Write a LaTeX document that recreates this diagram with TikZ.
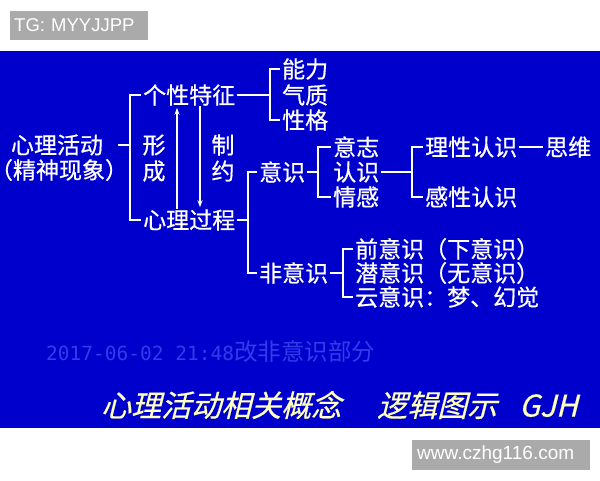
\documentclass[tikz,border=0pt]{standalone}
\usepackage{fontspec}
\setmainfont{Noto Sans CJK SC}[FakeBold=0.6]
\newfontfamily\latinsans{Liberation Sans}
\newfontfamily\monof{DejaVu Sans Mono}
\newfontfamily\cjkplain{Noto Sans CJK SC}
\newfontfamily\titlef[FakeSlant=0.25,FakeBold=0.6]{Noto Sans CJK SC}
\usetikzlibrary{arrows.meta}
\definecolor{bgblue}{RGB}{0,0,204}
\definecolor{labelgray}{RGB}{170,170,170}
\definecolor{datecol}{RGB}{50,60,235}
\definecolor{titleyellow}{RGB}{255,255,190}
\begin{document}
\begin{tikzpicture}[x=1pt,y=-1pt,
  t/.style={text=white,inner sep=0pt,font=\fontsize{23}{23}\selectfont},
  tw/.style={t,anchor=west},
  br/.style={draw=white,line width=2.6pt},
  ar/.style={draw=white,line width=1.8pt,-{Stealth[length=7pt,width=5pt]}},
  tag/.style={fill=labelgray,text=white,anchor=west,align=left,minimum height=29pt,inner ysep=0pt}]
\useasboundingbox (0,0) rectangle (600,480);
\fill[white] (0,0) rectangle (600,480);
\fill[bgblue] (0,51) rectangle (600,428);
% watermark labels
\node[tag,text width=130pt,inner xsep=4pt,font=\latinsans\fontsize{18.5}{19}\selectfont] (tg) at (10,25.5) {TG: MYYJJPP};
\node[tag,text width=168pt,inner xsep=5pt,minimum height=30pt,font=\latinsans\fontsize{19}{19}\selectfont] (web) at (412,455) {www.czhg116.com};
% texts
\node[t] (xlhd) at (57,145) {心理活动};
\node[t] (jsxx) at (59,170) {\makebox[13pt][r]{（}精神现象\makebox[13pt][l]{）}};
\node[tw] (gxtz) at (143,95) {个性特征};
\node[t] (xing) at (154,145) {形};
\node[t] (cheng) at (154,171) {成};
\node[t] (zhi) at (223,145) {制};
\node[t] (yue) at (223,171) {约};
\node[tw] (xlgc) at (143,220) {心理过程};
\node[tw] (nl) at (282,69) {能力};
\node[tw] (qz) at (282,95) {气质};
\node[tw] (xg) at (282,120) {性格};
\node[tw] (ys) at (259,172) {意识};
\node[tw] (yz) at (333,147) {意志};
\node[tw] (rs) at (333,172) {认识};
\node[tw] (qg) at (333,197) {情感};
\node[tw] (lxrs) at (425,147) {理性认识};
\node[tw] (sw) at (545,147) {思维};
\node[tw] (gxrs) at (425,197) {感性认识};
\node[tw] (fys) at (259,273) {非意识};
\node[tw] (qys) at (355,249) {前意识（下意识）};
\node[tw] (qianys) at (355,273) {潜意识（无意识）};
\node[tw] (yys) at (355,297) {云意识：梦、幻觉};
% bracket joints
\coordinate (s1) at (130,145);
\coordinate (s1l) at (118,145);
\coordinate (s2) at (270,95);
\coordinate (s3) at (248,220);
\coordinate (s4) at (318,172);
\coordinate (s5) at (412,172);
\coordinate (s6) at (343,273);
% brackets
\draw[br] ([xshift=-2pt]gxtz.west) -| (s1) |- ([xshift=-2pt]xlgc.west);
\draw[br] (s1l) -- (s1);
\draw[br] ([xshift=-2pt]nl.west) -| (s2) |- ([xshift=-2pt]xg.west);
\draw[br] ([xshift=2pt]gxtz.east) -- (s2);
\draw[br] ([xshift=-2pt]ys.west) -| (s3) |- ([xshift=-2pt]fys.west);
\draw[br] ([xshift=2pt]xlgc.east) -- (s3);
\draw[br] ([xshift=-2pt]yz.west) -| (s4) |- ([xshift=-2pt]qg.west);
\draw[br] ([xshift=2pt]ys.east) -- (s4);
\draw[br] ([xshift=-2pt]lxrs.west) -| (s5) |- ([xshift=-2pt]gxrs.west);
\draw[br] ([xshift=2pt]rs.east) -- (s5);
\draw[br] ([xshift=-2pt]qys.west) -| (s6) |- ([xshift=-2pt]yys.west);
\draw[br] ([xshift=2pt]fys.east) -- (s6);
\draw[white,line width=1.5pt] ([xshift=2pt]lxrs.east) -- ([xshift=-2pt]sw.west);
% arrows
\draw[ar] ([xshift=34pt]xlgc.north west) -- ([xshift=34pt,yshift=-2pt]gxtz.south west);
\draw[ar] ([xshift=57pt]gxtz.south west) -- ([xshift=57pt,yshift=2pt]xlgc.north west);
% date and title
\node[anchor=west,inner sep=0pt,text=datecol] (date) at (46,352) {{\monof\fontsize{19.5}{20}\selectfont 2017-06-02 21:48}{\cjkplain\fontsize{23.5}{23}\selectfont 改非意识部分}};
\node[anchor=west,inner sep=0pt,text=titleyellow,font=\titlef\fontsize{30}{30}\selectfont] (title) at (101,405) {心理活动相关概念\hspace{36pt}逻辑图示\hspace{22pt}GJH};
\end{tikzpicture}
\end{document}
